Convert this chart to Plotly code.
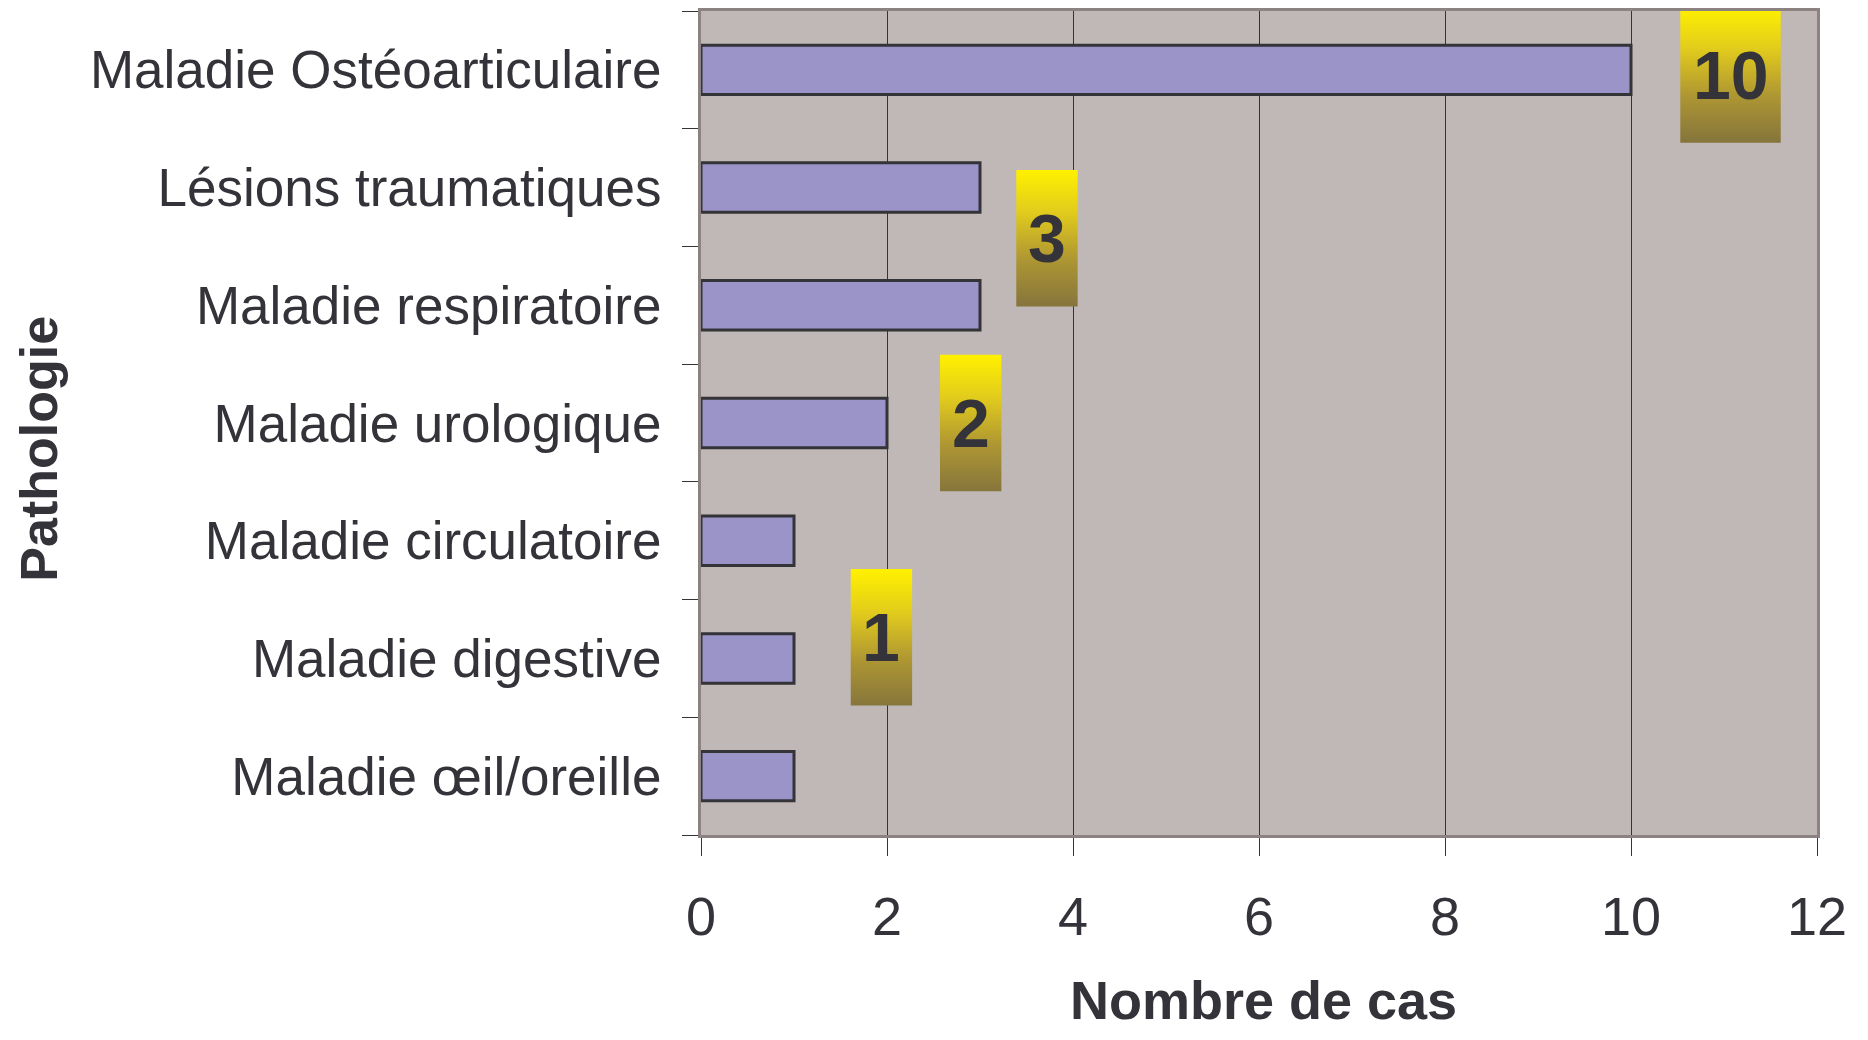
import plotly.graph_objects as go

# ---- data ----
categories = [
    "Maladie Ostéoarticulaire",
    "Lésions traumatiques",
    "Maladie respiratoire",
    "Maladie urologique",
    "Maladie circulatoire",
    "Maladie digestive",
    "Maladie œil/oreille",
]
cases = [10, 3, 3, 2, 1, 1, 1]
x_ticks = [0, 2, 4, 6, 8, 10, 12]

badge_labels = ["10", "3", "2", "1"]

# badge placement (layout, in data units): centre x, centre y, width, height
badge_cx = [11.07, 3.72, 2.90, 1.94]
badge_cy = [0.045, 1.43, 3.0, 4.82]
badge_w = [1.08, 0.66, 0.66, 0.66]
badge_h = [1.15, 1.16, 1.16, 1.16]

TEXT = "#343339"
FONT = "Liberation Sans, Arial, sans-serif"

fig = go.Figure()

ypos = list(range(len(categories)))
fig.add_trace(go.Bar(
    x=cases, y=ypos, orientation="h", width=0.42,
    marker=dict(color="#9A94C8", line=dict(color="#333338", width=3)),
    hoverinfo="x", showlegend=False,
))

for lab, cx, cy, w, h in zip(badge_labels, badge_cx, badge_cy, badge_w, badge_h):
    x0, x1 = cx - w / 2, cx + w / 2
    y0, y1 = cy - h / 2, cy + h / 2
    fig.add_trace(go.Scatter(
        x=[x0, x1, x1, x0, x0], y=[y0, y0, y1, y1, y0],
        mode="lines", line=dict(width=0), fill="toself",
        fillgradient=dict(
            type="vertical", start=y0, stop=y1,
            colorscale=[[0, "#FFF000"], [0.3, "#E2CC1C"], [0.65, "#AE9633"], [1, "#84743C"]],
        ),
        hoverinfo="skip", showlegend=False,
    ))
    fig.add_annotation(
        x=cx, y=cy, text=f"<b>{lab}</b>", showarrow=False,
        font=dict(family=FONT, size=68, color=TEXT),
        xanchor="center", yanchor="middle",
    )

fig.add_annotation(
    xref="paper", yref="paper", x=0.504, y=-0.2375,
    text="<b>Nombre de cas</b>", showarrow=False,
    font=dict(family=FONT, size=54, color=TEXT),
    xanchor="center", yanchor="bottom", borderpad=0,
)
fig.add_annotation(
    xref="paper", yref="paper", x=-0.594, y=0.469,
    text="<b>Pathologie</b>", showarrow=False, textangle=-90,
    font=dict(family=FONT, size=52, color=TEXT),
    xanchor="center", yanchor="middle",
)

fig.update_layout(
    width=1852, height=1024,
    margin=dict(l=693, r=43, t=0, b=197),
    paper_bgcolor="white",
    plot_bgcolor="#C0B8B6",
    font=dict(family=FONT, color=TEXT),
    xaxis=dict(
        range=[0, 12], tickvals=x_ticks, ticktext=[str(v) for v in x_ticks],
        showgrid=True, gridcolor="#35333A", gridwidth=1,
        ticks="outside", ticklen=18, tickcolor="#35333A", tickwidth=1,
        tickfont=dict(family=FONT, size=54, color=TEXT),
        ticklabelstandoff=14,
        showline=True, linecolor="#8C8282", linewidth=3, mirror=True,
        zeroline=False, fixedrange=True,
    ),
    yaxis=dict(
        range=[6.5, -0.5], tickvals=ypos, ticktext=categories,
        ticks="", showgrid=False, zeroline=False,
        tickfont=dict(family=FONT, size=53, color=TEXT),
        ticklabelstandoff=26,
        minor=dict(tickmode="linear", tick0=-0.5, dtick=1, ticks="outside",
                   ticklen=16, tickcolor="#35333A", tickwidth=1, showgrid=False),
        showline=True, linecolor="#8C8282", linewidth=3, mirror=True,
        fixedrange=True,
    ),
)

fig.write_html("out.html")
